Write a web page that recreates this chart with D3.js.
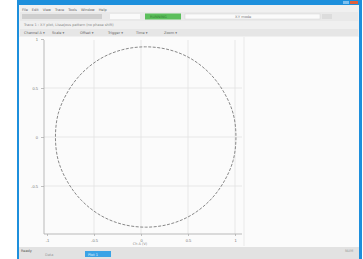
<!DOCTYPE html>
<html>
<head>
<meta charset="utf-8">
<script src="https://cdn.jsdelivr.net/npm/d3@7"></script>
<style>
  body { margin: 0; background: #fff; }
  svg { display: block; font-family: "DejaVu Sans", sans-serif; }
</style>
</head>
<body>
<div id="chart"></div>
<script>
// Tick values and labels
const xTicks = [-1, -0.5, 0, 0.5, 1];
const xTickLabels = ["-1", "-0.5", "0", "0.5", "1"];
const yTicks = [1, 0.5, 0, -0.5];
const yTickLabels = ["1", "0.5", "0", "-0.5"];

// Trace points (closed loop)
const traceX = [1.01, 0.98, 0.88, 0.73, 0.53, 0.3, 0.05, -0.2, -0.43, -0.63, -0.78, -0.88, -0.91,
  -0.88, -0.78, -0.63, -0.43, -0.2, 0.05, 0.3, 0.53, 0.73, 0.88, 0.98];
const traceY = [0.0, 0.24, 0.46, 0.65, 0.8, 0.89, 0.92, 0.89, 0.8, 0.65, 0.46, 0.24, 0.0,
  -0.24, -0.46, -0.65, -0.8, -0.89, -0.92, -0.89, -0.8, -0.65, -0.46, -0.24];

// Menu / toolbar captions (illegible in the reference, approximated)
const menuItems = ["File", "Edit", "View", "Trace", "Tools", "Window", "Help"];
const toolbarItems = ["Channel A", "Scale", "Offset", "Trigger", "Time", "Zoom"];

const W = 363, H = 259;
const svg = d3.select("#chart").append("svg").attr("width", W).attr("height", H);

// ---- window chrome ----
const win = svg.append("g");
win.append("rect").attr("x", 17).attr("y", 0).attr("width", 345).attr("height", 259).attr("fill", "#1d8fdc");
win.append("rect").attr("x", 19).attr("y", 5).attr("width", 340).attr("height", 254).attr("fill", "#f0f0f0");
// title bar buttons
win.append("rect").attr("x", 343).attr("y", 1).attr("width", 6).attr("height", 3).attr("fill", "#7fc0ee");
win.append("rect").attr("x", 350).attr("y", 1).attr("width", 8).attr("height", 3).attr("fill", "#e0603c");

// menu bar (each caption placed after the previous one)
let mx = 22;
menuItems.forEach((d) => {
  const t = win.append("text").attr("x", mx).attr("y", 10.5)
    .attr("font-size", 3.5).attr("fill", "#666").text(d);
  mx += t.node().getComputedTextLength() + 4;
});

// toolbar 1
win.append("rect").attr("x", 20).attr("y", 12).attr("width", 338).attr("height", 9).attr("fill", "#e9e9e9");
win.append("rect").attr("x", 22).attr("y", 14).attr("width", 80).attr("height", 5).attr("fill", "#cfcfcf");
win.append("rect").attr("x", 110).attr("y", 14).attr("width", 30).attr("height", 5).attr("fill", "#fafafa");
win.append("rect").attr("x", 145).attr("y", 13.5).attr("width", 36).attr("height", 6).attr("fill", "#5cbf5c");
win.append("text").attr("x", 150).attr("y", 18).attr("font-size", 3.5).attr("fill", "#2e7d2e").text("RUNNING");
win.append("rect").attr("x", 185).attr("y", 14).attr("width", 135).attr("height", 5).attr("fill", "#fafafa").attr("stroke", "#ccc").attr("stroke-width", 0.4);
win.append("text").attr("x", 235).attr("y", 18).attr("font-size", 3.5).attr("fill", "#777").text("X-Y mode");
win.append("rect").attr("x", 322).attr("y", 14).attr("width", 10).attr("height", 5).attr("fill", "#dcdcdc");

// status line
win.append("text").attr("x", 24).attr("y", 26).attr("font-size", 3.5).attr("fill", "#888")
  .text("Trace 1 : X-Y plot, Lissajous pattern (no phase shift)");

// toolbar 2
win.append("rect").attr("x", 20).attr("y", 29).attr("width", 338).attr("height", 7).attr("fill", "#e6e6e6");
win.selectAll(".tb").data(toolbarItems).enter().append("text")
  .attr("x", (d, i) => 24 + i * 28).attr("y", 34)
  .attr("font-size", 3.5).attr("fill", "#666").text((d) => d + " \u25BE");

// plot area
win.append("rect").attr("x", 19).attr("y", 37).attr("width", 340).attr("height", 210).attr("fill", "#fbfbfb");
win.append("line").attr("x1", 244).attr("x2", 244).attr("y1", 37).attr("y2", 246).attr("stroke", "#e6e6e6").attr("stroke-width", 0.8);

// bottom status bar
win.append("rect").attr("x", 19).attr("y", 247).attr("width", 340).attr("height", 12).attr("fill", "#e2e2e2");
win.append("text").attr("x", 21).attr("y", 252).attr("font-size", 3.5).attr("fill", "#555").text("Ready");
win.append("rect").attr("x", 85).attr("y", 251).attr("width", 26).attr("height", 6).attr("fill", "#3aa3e6");
win.append("text").attr("x", 88).attr("y", 255.5).attr("font-size", 3.5).attr("fill", "#e8f4fc").text("Plot 1");
win.append("text").attr("x", 45).attr("y", 256).attr("font-size", 3.5).attr("fill", "#999").text("Data");
win.append("text").attr("x", 345).attr("y", 252).attr("font-size", 3.5).attr("fill", "#999").text("NUM");

// ---- chart ----
const x = d3.scaleLinear().domain([-1, 1]).range([47, 235]);
const y = d3.scaleLinear().domain([-1, 1]).range([235, 39]);

const g = svg.append("g");

// gridlines
g.selectAll(".vgrid").data(xTicks.slice(1)).enter().append("line")
  .attr("x1", (d) => x(d)).attr("x2", (d) => x(d))
  .attr("y1", 40).attr("y2", 234)
  .attr("stroke", "#e3e3e3").attr("stroke-width", 0.8);
g.selectAll(".hgrid").data(yTicks.slice(1)).enter().append("line")
  .attr("x1", 44).attr("x2", 242)
  .attr("y1", (d) => y(d)).attr("y2", (d) => y(d))
  .attr("stroke", "#e3e3e3").attr("stroke-width", 0.8);

// axes
const xAxis = g.append("g").attr("transform", "translate(0,234)")
  .call(d3.axisBottom(x).tickValues(xTicks).tickSize(2).tickFormat((d, i) => xTickLabels[i]));
const yAxis = g.append("g").attr("transform", "translate(44,0)")
  .call(d3.axisLeft(y).tickValues(yTicks).tickSize(3).tickFormat((d, i) => yTickLabels[i]));
[xAxis, yAxis].forEach((a) => {
  a.select(".domain").remove();
  a.selectAll("line").attr("stroke", "#999").attr("stroke-width", 0.6);
  a.selectAll("text").attr("font-size", 4).attr("fill", "#777");
});
g.append("line").attr("x1", 44).attr("x2", 242).attr("y1", 234).attr("y2", 234).attr("stroke", "#aaa").attr("stroke-width", 0.8);
g.append("line").attr("x1", 44).attr("x2", 44).attr("y1", 40).attr("y2", 234).attr("stroke", "#aaa").attr("stroke-width", 0.8);
g.append("text").attr("x", 140).attr("y", 245).attr("text-anchor", "middle")
  .attr("font-size", 3.5).attr("fill", "#888").text("Ch A (V)");

// trace
const pts = traceX.map((v, i) => [v, traceY[i]]);
const line = d3.line().x((d) => x(d[0])).y((d) => y(d[1])).curve(d3.curveCardinalClosed);
g.append("path").datum(pts).attr("d", line)
  .attr("fill", "none").attr("stroke", "#888").attr("stroke-width", 1)
  .attr("stroke-dasharray", "3,1.5");
</script>
</body>
</html>
